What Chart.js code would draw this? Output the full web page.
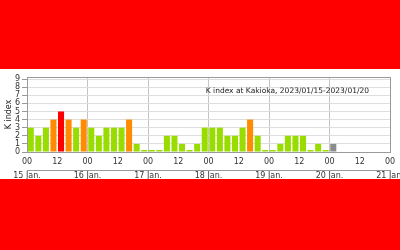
<!DOCTYPE html>
<html>
<head>
<meta charset="utf-8">
<script src="https://cdn.jsdelivr.net/npm/chart.js@4/dist/chart.umd.min.js"></script>
<style>
  html, body { margin: 0; padding: 0; }
  body { width: 400px; height: 250px; background: #ff0000; position: relative; overflow: hidden; }
  #panel { position: absolute; left: 0; top: 69px; width: 400px; height: 110px; background: #fff; }
</style>
</head>
<body>
<div id="panel"><canvas id="kChart" width="400" height="110"></canvas></div>
<script>
// 3-hourly K index, 2023/01/15 00h .. 2023/01/20 21h (null = no data yet)
const dayLabels = ['15 Jan.', '16 Jan.', '17 Jan.', '18 Jan.', '19 Jan.', '20 Jan.', '21 Jan.'];
const hourLabels = ['00', '12'];
const yTicks = [0, 1, 2, 3, 4, 5, 6, 7, 8, 9];
const kIndex = [
  3, 2, 3, 4, 5, 4, 3, 4,
  3, 2, 3, 3, 3, 4, 1, 0,
  0, 0, 2, 2, 1, 0, 1, 3,
  3, 3, 2, 2, 3, 4, 2, 0,
  0, 1, 2, 2, 2, 0, 1, 0,
  1, null, null, null, null, null, null, null
];
const provisionalBins = [40];
const chartTitle = 'K index at Kakioka, 2023/01/15-2023/01/20';

Chart.defaults.font.family = '"DejaVu Sans", sans-serif';
Chart.defaults.font.size = 8;

function kColor(k, i) {
  if (provisionalBins.includes(i)) return '#8c8c8c';
  if (k >= 5) return '#ff0000';
  if (k >= 4) return '#ff8c00';
  return '#99dd00';
}

const points = kIndex.map((k, i) => ({ x: i * 3 + 1.5, y: k }));
const colors = kIndex.map((k, i) => kColor(k, i));

const framePlugin = {
  id: 'frame',
  afterDatasetsDraw(chart) {
    const { ctx, chartArea: a } = chart;
    ctx.save();
    ctx.strokeStyle = '#9a9a9a';
    ctx.lineWidth = 1;
    ctx.strokeRect(Math.round(a.left) + 0.5, Math.round(a.top) + 0.5,
      Math.round(a.right - a.left), Math.round(a.bottom - a.top));
    ctx.font = '7.5px "DejaVu Sans"';
    ctx.fillStyle = '#222';
    ctx.textAlign = 'right';
    ctx.textBaseline = 'middle';
    ctx.fillText(chartTitle, a.right - 21, a.top + 14);
    ctx.restore();
  }
};

new Chart(document.getElementById('kChart'), {
  type: 'bar',
  data: {
    datasets: [{
      data: points,
      backgroundColor: colors,
      borderWidth: 0,
      minBarLength: 2,
      barPercentage: 1,
      categoryPercentage: 0.8
    }]
  },
  options: {
    responsive: false,
    animation: false,
    layout: { padding: { left: 0, right: 10, top: 8, bottom: 0 } },
    plugins: { legend: { display: false }, tooltip: { enabled: false } },
    scales: {
      x: {
        type: 'linear', min: 0, max: 144, position: 'bottom', offset: false,
        ticks: {
          stepSize: 12, autoSkip: false, maxRotation: 0, padding: 5, color: '#333',
          callback: v => hourLabels[(v / 12) % 2]
        },
        grid: {
          offset: false,
          drawTicks: false,
          color: c => (c.tick && c.tick.value % 24 === 0) ? '#c4c4c4' : 'rgba(0,0,0,0)'
        },
        border: { display: true, color: '#9a9a9a' },
        afterFit: s => { s.height = 18; s.paddingLeft = 0; s.paddingRight = 0; }
      },
      x2: {
        type: 'linear', min: 0, max: 144, position: 'bottom', offset: false,
        ticks: {
          stepSize: 24, autoSkip: false, maxRotation: 0, padding: 1, color: '#333',
          callback: v => dayLabels[v / 24]
        },
        grid: { display: false, drawTicks: false, offset: false },
        border: { display: true, color: '#9a9a9a' },
        afterFit: s => { s.height = 9; s.paddingLeft = 0; s.paddingRight = 0; }
      },
      y: {
        min: 0, max: 9.25,
        afterBuildTicks: s => { s.ticks = yTicks.map(v => ({ value: v })); },
        ticks: { autoSkip: false, padding: 2, color: '#333' },
        grid: { color: '#dedede', tickLength: 5, tickColor: '#9a9a9a' },
        border: { display: true, color: '#9a9a9a' },
        title: { display: true, text: 'K index', color: '#222', padding: { top: 4, bottom: 0 } },
        afterFit: s => { s.width = 27; s.paddingTop = 0; s.paddingBottom = 0; }
      }
    }
  },
  plugins: [framePlugin]
});
</script>
</body>
</html>
